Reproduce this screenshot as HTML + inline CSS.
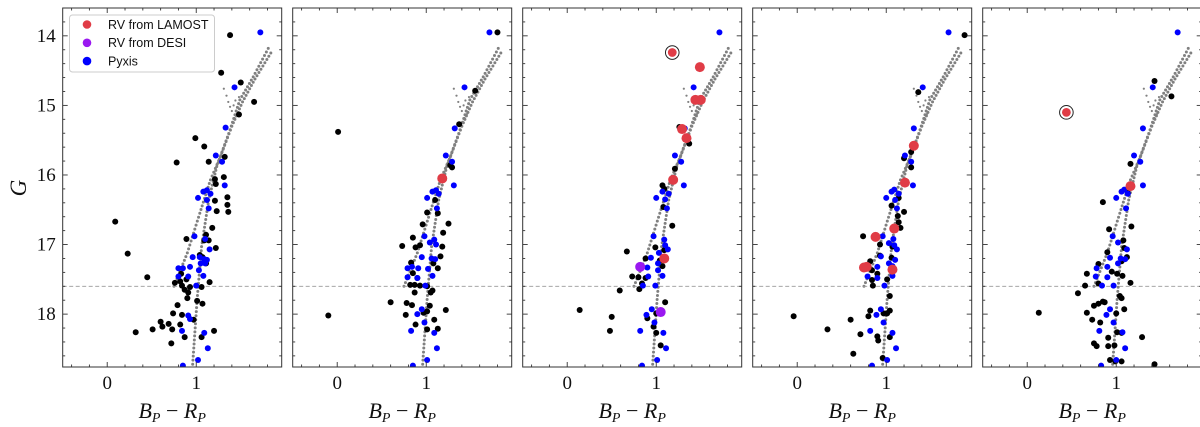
<!DOCTYPE html>
<html><head><meta charset="utf-8">
<style>
html,body{margin:0;padding:0;background:#fff;}
svg{display:block;}
</style></head>
<body>
<svg id="fig" width="1200" height="427" xmlns="http://www.w3.org/2000/svg"></svg>
<script>
// ---- data (BP-RP, G) per panel ----
const blackP1=[[1.38,13.99],[1.28,14.53],[1.50,14.67],[1.65,14.95],[1.48,15.13],[0.99,15.47],[1.09,15.59],[0.78,15.82],[1.14,15.81],[1.32,15.74],[1.21,16.06],[1.31,16.03],[1.22,16.13],[1.35,16.32],[1.35,16.43],[1.21,16.37],[1.36,16.53],[1.23,16.52],[0.09,16.67],[1.18,16.76],[0.89,16.92],[1.11,16.86],[1.09,16.94],[1.14,16.94],[1.22,17.05],[1.04,17.15],[1.07,17.18],[0.23,17.13],[1.11,17.27],[0.45,17.47],[0.83,17.42],[0.76,17.55],[0.82,17.53],[0.89,17.50],[0.84,17.59],[0.93,17.61],[0.87,17.65],[0.91,17.69],[1.06,17.61],[1.15,17.54],[0.90,17.77],[1.01,17.81],[0.79,17.87],[1.07,17.85],[0.74,17.99],[0.84,18.01],[0.97,18.08],[0.60,18.11],[0.69,18.14],[0.62,18.18],[0.51,18.22],[0.32,18.26],[0.73,18.22],[0.82,18.15],[0.87,18.33],[1.20,18.24],[1.06,18.33],[0.72,18.42]];
const blueP1=[[1.72,13.95],[1.43,14.74],[1.33,15.32],[1.22,15.72],[1.29,15.81],[1.32,16.15],[1.08,16.24],[1.12,16.22],[1.02,16.33],[1.16,16.27],[1.12,16.36],[1.14,16.48],[0.98,16.88],[1.10,16.92],[1.15,17.07],[0.96,17.18],[1.04,17.18],[1.09,17.21],[1.12,17.22],[1.05,17.27],[1.10,17.27],[0.80,17.34],[0.85,17.34],[0.93,17.32],[1.03,17.37],[0.80,17.46],[0.91,17.46],[1.08,17.45],[1.00,17.59],[0.91,18.02],[0.93,18.07],[0.84,18.24],[1.09,18.27],[1.13,18.49],[1.02,18.66],[0.85,18.74]];
const redP1=[];
const purpleP1=[];
const blackP2=[[1.80,13.95],[1.55,14.79],[1.37,15.27],[0.01,15.38],[1.27,15.86],[1.29,15.89],[1.10,16.36],[1.01,16.54],[1.13,16.55],[1.25,16.70],[0.96,16.71],[1.19,16.83],[0.85,16.90],[0.73,17.02],[0.88,17.04],[0.93,17.01],[1.18,17.03],[1.16,17.17],[1.08,17.27],[0.83,17.26],[1.13,17.34],[0.85,17.41],[0.90,17.48],[0.82,17.58],[0.87,17.58],[0.93,17.59],[1.01,17.60],[1.07,17.66],[0.87,17.69],[1.05,17.69],[0.60,17.83],[0.78,17.84],[0.84,17.87],[1.04,17.88],[0.77,18.01],[0.97,17.98],[1.01,17.96],[1.22,17.94],[-0.10,18.02],[1.09,18.08],[0.88,18.15],[1.01,18.22],[1.13,18.21]];
const blueP2=[[1.71,13.95],[1.43,14.74],[1.32,15.33],[1.22,15.72],[1.29,15.81],[1.31,16.15],[1.07,16.24],[1.11,16.22],[1.01,16.33],[1.14,16.27],[1.12,16.48],[0.98,16.88],[1.09,16.93],[1.04,16.97],[1.11,17.00],[0.95,17.18],[1.06,17.20],[1.10,17.21],[0.79,17.34],[0.84,17.32],[0.91,17.34],[1.02,17.35],[0.79,17.47],[0.90,17.48],[1.07,17.45],[0.99,17.59],[0.95,17.93],[0.90,18.00],[0.98,18.12],[0.83,18.24],[1.09,18.27],[1.12,18.49],[1.01,18.66],[0.85,18.74]];
const redP2=[[1.18,16.05]];
const purpleP2=[];
const blackP3=[[1.26,15.31],[1.37,15.55],[1.21,15.91],[1.07,16.15],[1.09,16.20],[1.08,16.46],[1.18,16.73],[0.99,17.04],[0.67,17.10],[1.09,17.08],[0.88,17.20],[1.04,17.23],[1.07,17.31],[0.73,17.46],[0.80,17.47],[0.88,17.48],[0.84,17.56],[0.81,17.64],[0.59,17.66],[1.10,17.83],[1.00,17.99],[0.90,18.06],[0.14,17.94],[0.50,18.04],[0.48,18.24],[0.97,18.18],[1.00,18.27],[1.05,18.45]];
const blueP3=[[1.71,13.95],[1.42,14.74],[1.32,15.33],[1.21,15.72],[1.28,15.81],[1.31,16.15],[1.07,16.24],[1.14,16.27],[1.00,16.33],[1.10,16.35],[1.12,16.48],[0.97,16.88],[1.09,16.93],[1.10,17.01],[1.13,17.07],[1.03,17.12],[0.94,17.19],[1.02,17.27],[0.90,17.33],[1.02,17.37],[0.91,17.46],[1.07,17.45],[0.85,17.59],[0.99,17.59],[0.95,17.93],[0.89,18.01],[0.98,18.12],[0.82,18.24],[1.08,18.27],[1.11,18.49],[1.01,18.66],[0.84,18.74]];
const redP3=[[1.49,14.45],[1.44,14.92],[1.50,14.92],[1.29,15.34],[1.34,15.47],[1.19,16.07],[1.09,17.20]];
const purpleP3=[[0.82,17.32],[1.05,17.97]];
const blackP4=[[1.88,13.99],[1.36,14.81],[1.28,15.67],[1.20,15.76],[1.28,15.89],[1.14,16.33],[1.06,16.44],[1.20,16.53],[1.13,16.59],[1.14,16.68],[1.16,16.76],[0.74,16.88],[0.93,17.00],[1.07,17.03],[0.93,17.16],[1.06,17.19],[0.82,17.24],[0.84,17.37],[0.90,17.42],[0.84,17.51],[1.01,17.50],[0.85,17.59],[1.04,17.74],[0.82,17.95],[0.97,17.99],[1.01,17.99],[1.04,17.95],[0.80,18.03],[-0.04,18.03],[0.60,18.08],[0.34,18.22],[0.71,18.29],[0.90,18.32],[0.91,18.38],[1.04,18.33],[0.63,18.57],[0.96,18.63]];
const blueP4=[[1.70,13.95],[1.41,14.74],[1.31,15.33],[1.21,15.72],[1.28,15.81],[1.30,16.15],[1.06,16.24],[1.09,16.21],[1.00,16.33],[1.14,16.27],[1.10,16.36],[1.12,16.48],[0.96,16.88],[1.08,16.92],[1.03,16.98],[1.09,17.01],[1.12,17.07],[0.94,17.17],[1.10,17.22],[1.03,17.27],[1.07,17.31],[0.90,17.32],[0.79,17.46],[0.90,17.48],[1.07,17.45],[0.98,17.59],[0.94,17.93],[0.89,18.01],[0.97,18.12],[0.82,18.24],[1.07,18.27],[1.11,18.49],[1.01,18.66],[0.84,18.74]];
const redP4=[[1.31,15.58],[1.21,16.11],[1.09,16.77],[0.88,16.89],[0.75,17.33],[0.78,17.32],[1.07,17.36]];
const purpleP4=[];
const blackP5=[[1.43,14.65],[1.62,14.87],[1.16,15.84],[0.85,16.39],[1.13,16.26],[0.92,16.78],[1.17,16.74],[1.08,16.94],[1.09,17.05],[0.90,17.11],[1.12,17.18],[1.06,17.24],[0.80,17.28],[0.95,17.39],[1.01,17.42],[1.07,17.45],[0.67,17.42],[0.80,17.56],[0.65,17.59],[1.16,17.55],[0.57,17.70],[1.04,17.74],[1.06,17.77],[0.85,17.82],[0.80,17.85],[0.75,17.88],[0.87,17.83],[1.09,17.93],[0.67,17.98],[0.13,17.98],[1.00,17.99],[0.73,18.08],[0.82,18.12],[1.01,18.26],[1.29,18.33],[0.75,18.42],[0.78,18.46],[0.91,18.34],[0.91,18.46],[0.98,18.45],[1.06,18.27],[0.93,18.66],[0.99,18.68],[1.06,18.68],[1.43,18.72]];
const blueP5=[[1.69,13.95],[1.41,14.74],[1.30,15.33],[1.20,15.72],[1.27,15.81],[1.30,16.15],[1.06,16.24],[1.09,16.21],[1.00,16.33],[1.13,16.27],[1.11,16.48],[0.96,16.88],[1.02,16.97],[1.12,17.07],[0.93,17.19],[1.05,17.20],[1.10,17.21],[1.02,17.27],[0.78,17.34],[0.90,17.32],[0.77,17.46],[0.90,17.47],[0.84,17.59],[0.97,17.59],[0.93,17.93],[0.89,18.01],[0.97,18.12],[0.81,18.24],[1.07,18.26],[1.10,18.49],[1.00,18.66],[0.83,18.74]];
const redP5=[[1.16,16.16]];
const purpleP5=[];
// circled (highlighted) LAMOST targets
const ringedP3=[[1.18,14.24]];
const ringedP5=[[0.44,15.10]];
// isochrone model
const isoMain=[[0.96,18.72],[1.01,17.79],[1.06,17.03],[1.14,16.36],[1.23,15.88],[1.38,15.35],[1.49,14.92],[1.64,14.59],[1.83,14.13]];
const isoBinary=[[0.75,17.60],[0.90,17.12],[1.04,16.55],[1.16,16.07],[1.27,15.74],[1.40,15.30],[1.52,14.95],[1.66,14.62],[1.86,14.20]];
const isoSparse=[[1.31,14.76],[1.34,14.86],[1.36,14.95],[1.38,15.02],[1.40,15.08],[1.42,15.00],[1.44,14.93],[1.46,15.12],[1.43,15.18],[1.48,14.88]];
const xTicks=[0,1];
const yTicks=[14,15,16,17,18];
const cutG=17.6;

const panels=[
 {black:blackP1,blue:blueP1,red:redP1,purple:purpleP1,ring:[]},
 {black:blackP2,blue:blueP2,red:redP2,purple:purpleP2,ring:[]},
 {black:blackP3,blue:blueP3,red:redP3,purple:purpleP3,ring:ringedP3},
 {black:blackP4,blue:blueP4,red:redP4,purple:purpleP4,ring:[]},
 {black:blackP5,blue:blueP5,red:redP5,purple:purpleP5,ring:ringedP5}
];
const NS='http://www.w3.org/2000/svg';
const svg=document.getElementById('fig');
const X0=-0.5, X1=1.96, Y0=13.6, Y1=18.76;
const PW=219, TOP=8, BOT=367;
const lefts=[62.7,292.7,522.7,752.7,982.7];
function mk(tag,attrs,parent){const e=document.createElementNS(NS,tag);for(const k in attrs)e.setAttribute(k,attrs[k]);(parent||svg).appendChild(e);return e;}

panels.forEach((p,i)=>{
  const L=lefts[i];
  const sx=v=>L+(v-X0)/(X1-X0)*PW;
  const sy=v=>TOP+(v-Y0)/(Y1-Y0)*(BOT-TOP);
  const g=mk('g',{});
  
  
  const clipId='clip'+i;
  const cp=mk('clipPath',{id:clipId},g);
  mk('rect',{x:L,y:TOP,width:PW,height:BOT-TOP},cp);
  const plot=mk('g',{'clip-path':'url(#'+clipId+')'},g);
  // isochrone dots
  const iso=mk('g',{fill:'#808080'},plot);
  
  
  [isoMain,isoBinary].forEach(line=>{
    for(let k=0;k<line.length-1;k++){
      const ax=sx(line[k][0]),ay=sy(line[k][1]),bx=sx(line[k+1][0]),by=sy(line[k+1][1]);
      const d=Math.hypot(bx-ax,by-ay),n=Math.max(1,Math.round(d/4));
      for(let t=0;t<n;t++){mk('circle',{cx:ax+(bx-ax)*t/n,cy:ay+(by-ay)*t/n,r:1.5},iso);}
    }
  });
  isoSparse.forEach(q=>mk('circle',{cx:sx(q[0]),cy:sy(q[1]),r:1.1},iso));
  // cut line
  const cl=mk('line',{x1:L,x2:L+PW,y1:sy(cutG),y2:sy(cutG),stroke:'#999','stroke-width':0.9,'stroke-dasharray':'4,2.5'},plot);
  
  
  p.black.forEach(q=>{const c=mk('circle',{cx:sx(q[0]),cy:sy(q[1]),r:3,fill:'#000'},plot);
    
    });
  p.blue.forEach(q=>{const c=mk('circle',{cx:sx(q[0]),cy:sy(q[1]),r:3,fill:'#0000ff'},plot);
    
    });
  p.red.forEach(q=>{const c=mk('circle',{cx:sx(q[0]),cy:sy(q[1]),r:5,fill:'#e03c46'},plot);
    
    });
  p.purple.forEach(q=>{const c=mk('circle',{cx:sx(q[0]),cy:sy(q[1]),r:5,fill:'#9a18f0'},plot);
    
    });
  p.ring.forEach(q=>{const c=mk('circle',{cx:sx(q[0]),cy:sy(q[1]),r:5,fill:'#e03c46',stroke:'#fff','stroke-width':1.2},plot);
    
    
    mk('circle',{cx:sx(q[0]),cy:sy(q[1]),r:6.8,fill:'none',stroke:'#222','stroke-width':1},plot);});
  // frame
  const fr=mk('rect',{x:L,y:TOP,width:PW,height:BOT-TOP,fill:'none',stroke:'#333','stroke-width':1},g);
  
  
  // ticks
  const tk=mk('g',{stroke:'#333','stroke-width':0.9},g);
  for(let v=-0.4;v<=1.9;v+=0.2){const vv=Math.round(v*10)/10;const x=sx(vv);const major=Math.abs(vv-Math.round(vv))<1e-6;const len=major?5:2.5;
    mk('line',{x1:x,x2:x,y1:BOT,y2:BOT-len},tk);mk('line',{x1:x,x2:x,y1:TOP,y2:TOP+len},tk);}
  for(let v=13.6;v<=18.76;v+=0.2){const vv=Math.round(v*10)/10;const y=sy(vv);const major=Math.abs(vv-Math.round(vv))<1e-6;const len=major?5:2.5;
    mk('line',{x1:L,x2:L+len,y1:y,y2:y},tk);mk('line',{x1:L+PW,x2:L+PW-len,y1:y,y2:y},tk);}
  xTicks.forEach(v=>{const t=mk('text',{x:sx(v),y:389,'text-anchor':'middle','font-family':'Liberation Serif, serif','font-size':19,fill:'#111'},g);t.textContent=String(v);
    
    });
  const xl=mk('text',{x:L+PW/2,y:418,'text-anchor':'middle','font-family':'Liberation Serif, serif','font-size':22,'font-style':'italic',fill:'#111'},g);
  xl.innerHTML='B<tspan font-size="14" dy="4">P</tspan><tspan dy="-4" font-style="normal"> − </tspan>R<tspan font-size="14" dy="4">P</tspan>';
  
  
  if(i===0){
    yTicks.forEach(v=>{const t=mk('text',{x:L-7,y:sy(v)+6,'text-anchor':'end','font-family':'Liberation Serif, serif','font-size':19,fill:'#111'},g);t.textContent=String(v);
      
      });
    const yl=mk('text',{x:0,y:0,transform:'translate(26,188) rotate(-90)','text-anchor':'middle','font-family':'Liberation Serif, serif','font-size':23,'font-style':'italic',fill:'#111'},g);
    yl.textContent='G';
    
    
    // legend
    const lg=mk('g',{},g);
    
    
    mk('rect',{x:69.5,y:15,width:145,height:57,rx:3,fill:'#fff',stroke:'#ccc','stroke-width':1},lg);
    [['#e03c46','RV from LAMOST'],['#9a18f0','RV from DESI'],['#0000ff','Pyxis']].forEach((e,k)=>{
      const y=24.5+k*18.3;
      const en=mk('g',{},lg);
      
      
      mk('circle',{cx:87,cy:y,r:4.3,fill:e[0]},en);
      const t=mk('text',{x:108,y:y+4.3,'font-family':'Liberation Sans, sans-serif','font-size':12.5,fill:'#111'},en);t.textContent=e[1];
    });
  }
});
</script>
</body></html>
